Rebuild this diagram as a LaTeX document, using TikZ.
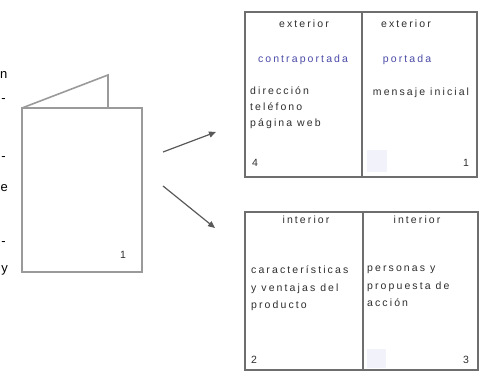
\documentclass[tikz,border=0pt]{standalone}
\usepackage{fontspec}
\setmainfont{Liberation Sans}
\usetikzlibrary{arrows.meta}
\definecolor{boxline}{HTML}{6E6E6E}
\definecolor{pageline}{HTML}{9A9A9A}
\definecolor{txt}{HTML}{2E2E2E}
\definecolor{bluetxt}{HTML}{4A4AA8}
\definecolor{faintblue}{HTML}{F1F2FA}
\newfontfamily\panelfont[LetterSpace=20]{Liberation Sans}
\tikzset{
  panel/.style={draw=boxline, line width=1.3pt},
  divider/.style={draw=boxline, line width=1.1pt},
  ptxt/.style={font=\panelfont\fontsize{10.5}{16}\selectfont, text=txt, inner sep=0pt},
  btxt/.style={ptxt, text=bluetxt},
  ltxt/.style={ptxt, align=left, anchor=north west},
  page/.style={draw=pageline, line width=1.6pt, line join=miter},
  arr/.style={draw=black!65, line width=1.2pt, -{Triangle[length=7pt,width=6pt]}},
  frag/.style={font=\fontsize{13}{15}\selectfont, text=black, inner sep=0pt, anchor=east}
}
\begin{document}
\begin{tikzpicture}[x=1pt,y=-1pt]
\useasboundingbox (0,0) rectangle (482,371);
% cut-off text fragments at the left edge
\node[frag] (f1) at (7.5,75) {n};
\node[frag] (f2) at (6,101) {-};
\node[frag] (f3) at (6,159) {-};
\node[frag] (f4) at (8,188) {e};
\node[frag] (f5) at (6,244) {-};
\node[frag] (f6) at (8,270) {y};
% folded leaflet
\coordinate (backtop) at (108,75);
\coordinate (pagetl) at (22,108);
\coordinate (pagebr) at (142,272);
\coordinate (backbase) at (108,108);
\draw[page] (pagetl) -- (backtop) -- (backbase);
\draw[page] (pagetl) rectangle (pagebr);
\node[ptxt] (pnum) at (123,255) {1};
% arrows
\coordinate (a1s) at (163,152);
\coordinate (a1e) at (216,132);
\coordinate (a2s) at (163,186);
\coordinate (a2e) at (215,228);
\draw[arr] (a1s) -- (a1e);
\draw[arr] (a2s) -- (a2e);
% faint squares
\fill[faintblue] (367,150) rectangle (387,172);
\fill[faintblue] (367,349) rectangle (386,368);
% top sheet
\draw[panel] (245,12) rectangle (477,177);
\draw[divider] (362,12) -- (362,177);
\node[ptxt] (t1) at (304,24) {exterior};
\node[btxt] (t2) at (303,60) {contraportada};
\node[ltxt] (t3) at (250,86.5) {dirección\\teléfono\\página web};
\node[ptxt] (t4) at (255,163) {4};
\node[ptxt] (t5) at (406,24) {exterior};
\node[btxt] (t6) at (407,60) {portada};
\node[ptxt] (t7) at (421,93) {mensaje inicial};
\node[ptxt] (t8) at (466,163) {1};
% bottom sheet
\draw[panel] (245,212) rectangle (478,370);
\draw[divider] (363,212) -- (363,370);
\node[ptxt] (b1) at (306,220) {interior};
\node[ltxt, font=\panelfont\fontsize{10.5}{17.5}\selectfont] (b2) at (251,266) {características\\y ventajas del\\producto};
\node[ptxt] (b3) at (254,360) {2};
\node[ptxt] (b4) at (417,220) {interior};
\node[ltxt, font=\panelfont\fontsize{10.5}{17.5}\selectfont] (b5) at (367,266) {personas y\\propuesta de\\acción};
\node[ptxt] (b6) at (466,360) {3};
\end{tikzpicture}
\end{document}
